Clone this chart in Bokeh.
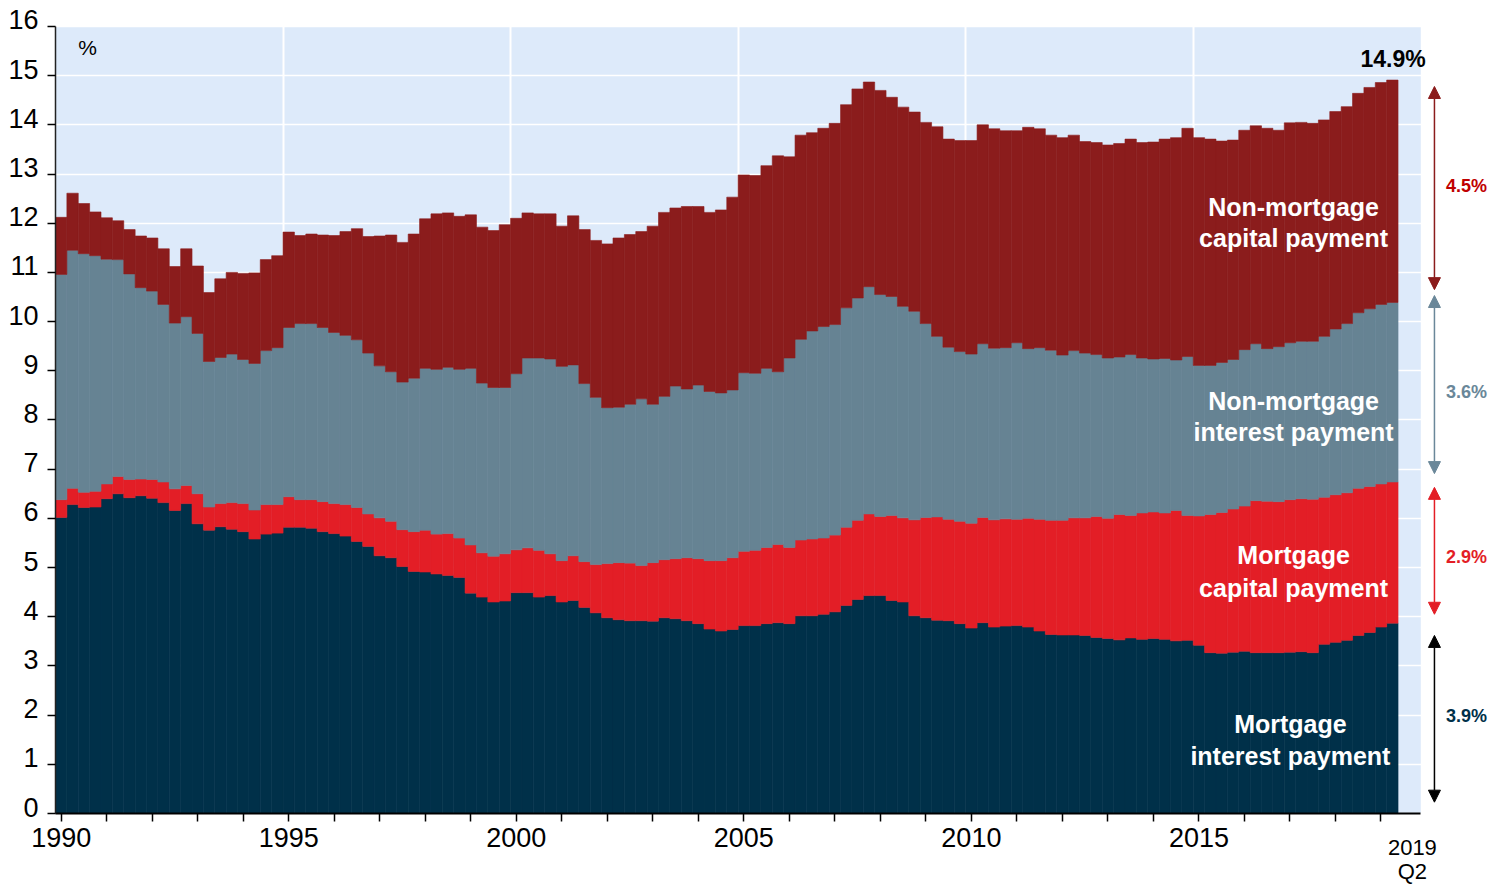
from bokeh.plotting import figure
from bokeh.models import (ColumnDataSource, Range1d, FixedTicker, Arrow, NormalHead,
                          LinearAxis, NumeralTickFormatter)
from bokeh.core.properties import value
from bokeh.embed import file_html
from bokeh.resources import INLINE

# ---------------- data (percent of disposable income, quarterly 1990Q1-2019Q2) -------------
years = list(range(1990, 2020))
quarters = [f"{y}Q{q}" for y in years for q in (1, 2, 3, 4)][:118]

mortgage_interest = [
    6.02, 6.28, 6.22, 6.23, 6.40, 6.50, 6.42, 6.46, 6.41, 6.32,
    6.16, 6.30, 5.89, 5.76, 5.83, 5.78, 5.73, 5.58, 5.68, 5.70,
    5.82, 5.82, 5.80, 5.73, 5.69, 5.64, 5.53, 5.43, 5.24, 5.20,
    5.02, 4.92, 4.91, 4.87, 4.84, 4.80, 4.48, 4.40, 4.30, 4.32,
    4.49, 4.49, 4.40, 4.43, 4.30, 4.33, 4.19, 4.08, 3.98, 3.94,
    3.92, 3.92, 3.91, 3.98, 3.96, 3.92, 3.86, 3.75, 3.71, 3.74,
    3.82, 3.82, 3.86, 3.88, 3.86, 4.02, 4.02, 4.05, 4.10, 4.23,
    4.35, 4.43, 4.43, 4.33, 4.30, 4.02, 3.98, 3.93, 3.92, 3.86,
    3.77, 3.88, 3.79, 3.81, 3.82, 3.79, 3.71, 3.64, 3.63, 3.63,
    3.62, 3.58, 3.56, 3.53, 3.57, 3.54, 3.56, 3.54, 3.51, 3.52,
    3.42, 3.27, 3.26, 3.28, 3.30, 3.27, 3.27, 3.27, 3.28, 3.29,
    3.27, 3.44, 3.48, 3.52, 3.62, 3.68, 3.79, 3.87]

mortgage_capital = [
    0.36, 0.33, 0.31, 0.32, 0.30, 0.35, 0.37, 0.34, 0.38, 0.42,
    0.44, 0.37, 0.61, 0.47, 0.47, 0.54, 0.57, 0.59, 0.60, 0.58,
    0.62, 0.56, 0.58, 0.61, 0.61, 0.64, 0.69, 0.66, 0.77, 0.74,
    0.75, 0.81, 0.85, 0.81, 0.85, 0.80, 0.98, 0.90, 0.93, 0.96,
    0.87, 0.91, 0.95, 0.85, 0.84, 0.91, 0.93, 0.98, 1.10, 1.16,
    1.17, 1.12, 1.19, 1.18, 1.22, 1.28, 1.32, 1.39, 1.43, 1.46,
    1.51, 1.53, 1.55, 1.59, 1.55, 1.54, 1.56, 1.55, 1.56, 1.59,
    1.61, 1.66, 1.61, 1.73, 1.71, 1.95, 2.04, 2.10, 2.06, 2.08,
    2.13, 2.14, 2.18, 2.18, 2.16, 2.21, 2.27, 2.32, 2.33, 2.38,
    2.39, 2.46, 2.44, 2.55, 2.49, 2.57, 2.57, 2.57, 2.65, 2.54,
    2.63, 2.81, 2.86, 2.91, 2.95, 3.09, 3.08, 3.07, 3.10, 3.11,
    3.12, 2.99, 3.00, 3.00, 2.99, 2.97, 2.91, 2.87]

nonmortgage_interest = [
    4.58, 4.84, 4.85, 4.79, 4.57, 4.41, 4.18, 3.89, 3.83, 3.61,
    3.37, 3.43, 3.26, 2.96, 2.97, 3.02, 2.93, 2.98, 3.13, 3.19,
    3.44, 3.58, 3.58, 3.54, 3.48, 3.44, 3.41, 3.27, 3.09, 3.04,
    3.00, 3.12, 3.29, 3.35, 3.38, 3.43, 3.59, 3.45, 3.43, 3.38,
    3.58, 3.86, 3.91, 3.96, 3.95, 3.88, 3.62, 3.40, 3.17, 3.16,
    3.23, 3.39, 3.22, 3.32, 3.51, 3.43, 3.53, 3.44, 3.41, 3.41,
    3.63, 3.60, 3.64, 3.51, 3.85, 4.08, 4.23, 4.30, 4.28, 4.46,
    4.52, 4.62, 4.51, 4.45, 4.30, 4.24, 3.94, 3.67, 3.50, 3.45,
    3.44, 3.53, 3.49, 3.48, 3.59, 3.45, 3.49, 3.46, 3.36, 3.40,
    3.35, 3.29, 3.26, 3.20, 3.27, 3.15, 3.11, 3.14, 3.06, 3.23,
    3.06, 3.03, 3.05, 3.04, 3.18, 3.19, 3.10, 3.15, 3.19, 3.20,
    3.21, 3.27, 3.37, 3.44, 3.57, 3.61, 3.65, 3.65]

nonmortgage_capital = [
    1.16, 1.16, 1.02, 0.89, 0.84, 0.79, 0.90, 1.05, 1.08, 1.13,
    1.15, 1.38, 1.37, 1.40, 1.60, 1.66, 1.75, 1.84, 1.85, 1.87,
    1.94, 1.79, 1.82, 1.88, 1.97, 2.11, 2.26, 2.37, 2.64, 2.78,
    2.84, 2.93, 3.04, 3.16, 3.14, 3.11, 3.12, 3.17, 3.19, 3.31,
    3.16, 2.95, 2.93, 2.95, 2.85, 3.03, 3.13, 3.19, 3.33, 3.44,
    3.45, 3.40, 3.62, 3.74, 3.62, 3.71, 3.63, 3.64, 3.72, 3.92,
    4.02, 4.02, 4.12, 4.39, 4.09, 4.15, 4.03, 4.03, 4.09, 4.13,
    4.25, 4.16, 4.15, 4.05, 4.05, 4.05, 4.09, 4.26, 4.23, 4.29,
    4.34, 4.45, 4.46, 4.41, 4.31, 4.50, 4.45, 4.37, 4.42, 4.38,
    4.30, 4.31, 4.33, 4.34, 4.38, 4.38, 4.41, 4.46, 4.52, 4.64,
    4.63, 4.60, 4.50, 4.46, 4.46, 4.43, 4.48, 4.40, 4.47, 4.45,
    4.43, 4.40, 4.42, 4.41, 4.46, 4.50, 4.51, 4.52]

y_ticks = list(range(0, 17))
x_label_years = [1990, 1995, 2000, 2005, 2010, 2015]
latest_total = "14.9%"
latest_shares = ["4.5%", "3.6%", "2.9%", "3.9%"]
end_label = ["2019", "Q2"]

# ---------------- styling -------------
NAVY = "#003049"
RED = "#E31E26"
GREY = "#668393"
DARKRED = "#8B1C1C"
BG = "#DDEAFA"
FONT = "Liberation Sans"

x = [int(q[:4]) + (int(q[5]) - 1) * 0.25 for q in quarters]
source = ColumnDataSource(dict(x=x, mi=mortgage_interest, mc=mortgage_capital,
                               ni=nonmortgage_interest, nc=nonmortgage_capital))

W, H = 1495, 886
PX_X, PX_Y = 45.51, 49.19          # pixels per year / per percentage point
LEFT, ZERO = 55, 813               # pixel column of the y axis, pixel row of y = 0
x0, x1 = 1989.875, 2019.875        # plotted period (quarter edges)
xs = x0 - LEFT / PX_X
ys = -(H - ZERO) / PX_Y
p = figure(width=W, height=H,
           x_range=Range1d(xs, xs + W / PX_X), y_range=Range1d(ys, ZERO / PX_Y),
           output_backend="svg", toolbar_location=None,
           min_border_left=0, min_border_right=0, min_border_top=0, min_border_bottom=0)
p.background_fill_color = "white"
p.border_fill_color = "white"
p.outline_line_color = None

# plot-area background limited to the data period
p.quad(left=x0, right=x1, bottom=0, top=16, fill_color=BG, line_color=None, level="image")

colors = [NAVY, RED, GREY, DARKRED]
p.vbar_stack(["mi", "mc", "ni", "nc"], x="x", width=0.25, source=source,
             fill_color=colors, line_color=colors, line_width=0.6)

# grid
p.ygrid.ticker = FixedTicker(ticks=y_ticks)
p.ygrid.grid_line_color = "white"
p.ygrid.grid_line_width = 1.5
p.xgrid.ticker = FixedTicker(ticks=[y - 0.125 for y in x_label_years[1:]])
p.xgrid.grid_line_color = "white"
p.xgrid.grid_line_width = 2

# y axis: line + ticks (labels drawn by a second axis, set slightly higher as in the source)
ya = p.yaxis[0]
ya.fixed_location = x0
ya.bounds = (0, 16)
ya.ticker = FixedTicker(ticks=y_ticks)
ya.major_tick_out = 8
ya.major_tick_in = 0
ya.minor_tick_out = 0
ya.minor_tick_in = 0
ya.major_tick_line_width = 1.5
ya.axis_line_width = 1.5
ya.axis_line_color = "#222222"
ya.major_label_text_color = None

yl = LinearAxis(fixed_location=x0, ticker=FixedTicker(ticks=[v + 0.132 for v in y_ticks]),
                formatter=NumeralTickFormatter(format="0"),
                axis_line_color=None, major_tick_line_color=None, minor_tick_line_color=None,
                major_tick_out=0, major_tick_in=0, minor_tick_out=0, minor_tick_in=0,
                major_label_standoff=17, major_label_text_font=FONT,
                major_label_text_font_size="27px", major_label_text_color="black")
p.add_layout(yl, "left")

# x axis at y = 0
xa = p.xaxis[0]
xa.fixed_location = 0
xa.ticker = FixedTicker(ticks=years)
xa.major_label_overrides = {y: (str(y) if y in x_label_years else "") for y in years}
xa.bounds = (x0, x1)
xa.major_tick_out = 8
xa.major_tick_in = 0
xa.minor_tick_out = 0
xa.minor_tick_in = 0
xa.major_tick_line_width = 1.5
xa.axis_line_width = 2
xa.axis_line_color = "black"
xa.major_label_text_font = FONT
xa.major_label_text_font_size = "27px"
xa.major_label_text_color = "black"
xa.major_label_standoff = 6

# series labels (white, bold)
p.text(x=[2017.08, 2017.08, 2017.08, 2017.08, 2017.08, 2017.08, 2017.01, 2017.01],
       y=[12.32, 11.69, 8.38, 7.75, 5.245, 4.59, 1.81, 1.16],
       text=["Non-mortgage", "capital payment", "Non-mortgage", "interest payment",
             "Mortgage", "capital payment", "Mortgage", "interest payment"],
       text_color="white", text_font=value(FONT), text_font_style="bold",
       text_font_size="25px", text_align="center", text_baseline="middle")

p.text(x=[2019.265], y=[15.33], text=[latest_total], text_color="black",
       text_font=value(FONT), text_font_style="bold", text_font_size="23px",
       text_align="center", text_baseline="middle")
p.text(x=[1990.58], y=[15.57], text=["%"], text_color="black",
       text_font=value(FONT), text_font_size="21px",
       text_align="center", text_baseline="middle")

# right-hand arrows and shares
ax = 2020.175
arrows = [(14.78, 10.65, DARKRED, "#C00000", 12.75),
          (10.53, 6.91, "#6A8799", "#6A8799", 8.56),
          (6.63, 4.05, RED, RED, 5.22),
          (3.62, 0.23, "black", NAVY, 1.99)]
for (ytop, ybot, acol, tcol, ylab), lab in zip(arrows, latest_shares):
    p.add_layout(Arrow(x_start=ax, y_start=ybot, x_end=ax, y_end=ytop,
                       line_color=acol, line_width=1.5,
                       start=NormalHead(size=12, fill_color=acol, line_color=acol),
                       end=NormalHead(size=12, fill_color=acol, line_color=acol)))
    p.text(x=[2020.88], y=[ylab], text=[lab], text_color=tcol,
           text_font=value(FONT), text_font_style="bold", text_font_size="18px",
           text_align="center", text_baseline="middle")

# end-of-sample date label below the axis
p.text(x=[2019.69, 2019.69], y=[-0.70, -1.17], text=end_label, text_color="black",
       text_font=value(FONT), text_font_size="22px",
       text_align="center", text_baseline="middle")

open("out.html", "w").write(file_html(p, INLINE))
